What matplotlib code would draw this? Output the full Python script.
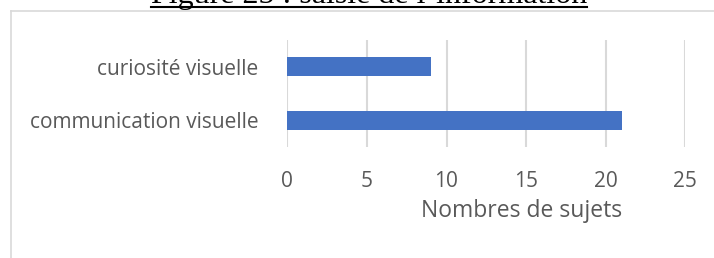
import matplotlib
matplotlib.use("Agg")
import matplotlib.pyplot as plt
from matplotlib.lines import Line2D

# data
categories = ["communication visuelle", "curiosité visuelle"]
values = [21, 9]
x_ticks = [0, 5, 10, 15, 20, 25]
x_label = "Nombres de sujets"
title = "Figure 25 : saisie de l\u2019information"

W, H = 714, 258
fig = plt.figure(figsize=(W / 100, H / 100), dpi=100)

def fx(px):
    return px / W

def fy(py):
    return 1 - py / H

ax = fig.add_axes([fx(287.3), fy(147), fx(685.3) - fx(287.3), fy(40) - fy(147)])

grey_txt = "#595959"
grid_col = "#d9d9d9"
font = "Open Sans"

ax.barh(range(len(categories)), values, height=0.36, color="#4472C4", zorder=3)
ax.set_xlim(0, 25)
ax.set_ylim(-0.5, len(categories) - 0.5)
ax.set_xticks(x_ticks)
ax.set_yticks(range(len(categories)))
ax.set_yticklabels(categories)
ax.grid(axis="x", color=grid_col, linewidth=1.5, zorder=0)
for s in ax.spines.values():
    s.set_visible(False)
ax.tick_params(axis="both", length=0, labelcolor=grey_txt, labelsize=15)
ax.tick_params(axis="x", pad=17)
ax.tick_params(axis="y", pad=21)
for lab in ax.get_xticklabels() + ax.get_yticklabels():
    lab.set_fontfamily(font)

ax.set_xlabel(x_label, fontsize=16.5, color=grey_txt, fontfamily=font, va="center")
ax.xaxis.set_label_coords((522 - 287.3) / 398, (147 - 211) / 107)

# chart frame (cut off on the right and bottom)
fig.add_artist(Line2D([fx(11), fx(714)], [fy(11), fy(11)], color=grid_col, lw=1.2))
fig.add_artist(Line2D([fx(11), fx(11)], [fy(11), fy(258)], color=grid_col, lw=1.2))

# caption above the chart, mostly outside the picture
fig.text(fx(369), fy(3), title, ha="center", va="baseline",
         fontsize=23, fontfamily="Liberation Serif", color="black")
fig.add_artist(Line2D([fx(151), fx(587)], [fy(6.5), fy(6.5)], color="black", lw=1.5))

fig.savefig("out.png", dpi=100)
